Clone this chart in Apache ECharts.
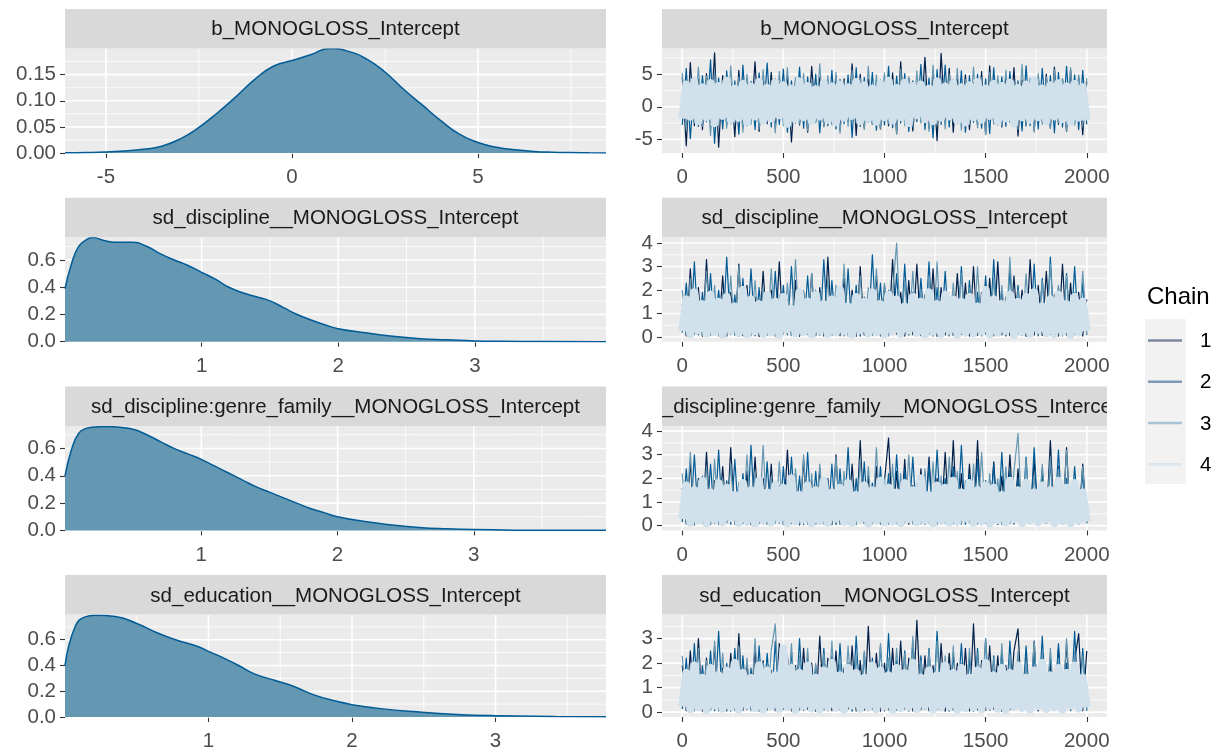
<!DOCTYPE html>
<html>
<head>
<meta charset="utf-8">
<script src="https://cdn.jsdelivr.net/npm/echarts@6/dist/echarts.min.js"></script>
<style>
  html, body { margin: 0; padding: 0; background: #ffffff; }
  #chart { width: 1219px; height: 752px; }
</style>
</head>
<body>
<div id="chart"></div>
<script>
// ---- parameters shown in the facet strips ----
const paramNames = [
  'b_MONOGLOSS_Intercept',
  'sd_discipline__MONOGLOSS_Intercept',
  'sd_discipline:genre_family__MONOGLOSS_Intercept',
  'sd_education__MONOGLOSS_Intercept'
];
const chainNames = ['1', '2', '3', '4'];
const chainColors = ['#011f4b', '#005b96', '#6497b1', '#d1e1ec'];
const legendKeyColors = ['#7a879d', '#7f98b6', '#a7c3d6', '#dbe6ee'];

// ---- posterior densities (all chains pooled) ----
const densX1 = [-6.1,-5.5,-5,-4.5,-4,-3.5,-3,-2.5,-2,-1.5,-1,-0.5,0,0.5,1,1.5,2,2.5,3,3.5,4,4.5,5,5.5,6,6.5,7,7.5,8,8.44];
const densY1 = [0.0005,0.001,0.002,0.004,0.007,0.013,0.027,0.049,0.077,0.108,0.141,0.166,0.177,0.188,0.2,0.195,0.18,0.155,0.122,0.092,0.062,0.036,0.02,0.011,0.006,0.003,0.0015,0.0008,0.0003,0.0001];
const densX2 = [0,0.05,0.1,0.15,0.2,0.3,0.4,0.5,0.6,0.7,0.8,0.9,1,1.1,1.2,1.3,1.4,1.5,1.6,1.7,1.8,1.9,2,2.2,2.4,2.6,2.8,3,3.2,3.5,3.96];
const densY2 = [0.39,0.58,0.70,0.745,0.765,0.74,0.73,0.73,0.70,0.645,0.60,0.56,0.51,0.46,0.40,0.36,0.33,0.30,0.25,0.20,0.16,0.125,0.095,0.065,0.04,0.022,0.014,0.006,0.003,0.001,0.0003];
const densX3 = [0,0.05,0.1,0.15,0.2,0.3,0.4,0.5,0.6,0.7,0.8,0.9,1,1.1,1.2,1.3,1.4,1.5,1.6,1.7,1.8,1.9,2,2.2,2.4,2.6,2.8,3,3.3,3.6,3.97];
const densY3 = [0.40,0.60,0.71,0.745,0.755,0.76,0.755,0.74,0.70,0.65,0.60,0.56,0.52,0.47,0.42,0.37,0.32,0.28,0.24,0.20,0.16,0.13,0.10,0.065,0.04,0.022,0.012,0.006,0.002,0.001,0.0002];
const densX4 = [0,0.07,0.14,0.21,0.35,0.5,0.65,0.77,0.93,1.0,1.1,1.21,1.32,1.46,1.6,1.74,1.9,2.0,2.2,2.45,2.73,3.0,3.42,3.77];
const densY4 = [0.40,0.70,0.777,0.79,0.78,0.726,0.65,0.60,0.545,0.51,0.46,0.40,0.335,0.285,0.235,0.17,0.12,0.096,0.065,0.04,0.02,0.01,0.004,0.001];

// ---- trace draws, every 20th iteration, one array per chain ----
const traceIter = Array.from({ length: 101 }, (_, i) => i * 20);

const traceB_c1 = [4.6,-6.0,6.8,-2.9,4.2,-3.5,5.1,-2.4,8.3,-6.2,4.8,-2.7,3.9,-4.6,5.6,-3.1,4.4,-2.2,6.9,-3.8,4.0,-2.6,5.3,-3.3,3.7,-2.0,4.9,-5.4,4.1,-2.8,3.6,-3.9,6.2,-2.3,4.5,-3.0,3.8,-2.5,4.7,-3.6,4.3,-2.1,6.6,-4.4,5.0,-3.2,4.2,-2.7,3.9,-3.4,4.6,-2.9,5.2,-4.1,6.9,-2.4,4.4,-3.7,3.5,-2.2,7.6,-3.3,4.8,-5.2,8.2,-2.6,5.9,-3.9,4.2,-2.3,4.9,-3.5,3.7,-2.8,5.4,-4.2,6.3,-2.6,4.0,-3.1,4.7,-2.4,6.0,-4.5,4.1,-2.9,3.8,-3.6,4.5,-2.2,5.0,-3.3,6.1,-2.7,4.3,-3.8,5.7,-2.5,4.6,-4.3,3.9];
const traceB_c2 = [-2.8,5.9,-4.9,4.1,-3.0,4.8,-2.3,7.2,-5.6,4.4,-3.4,5.5,-2.6,4.0,-4.2,6.4,-2.9,3.9,-3.5,5.2,-2.4,6.7,-3.1,4.3,-2.7,5.8,-3.9,4.0,-2.5,6.1,-3.3,4.6,-2.0,5.0,-4.0,3.8,-2.9,5.6,-3.4,4.2,-2.6,4.9,-4.7,6.0,-3.0,4.5,-2.4,5.3,-3.6,4.1,-2.8,6.2,-3.2,4.7,-2.5,5.1,-3.8,4.0,-2.3,6.5,-3.5,4.4,-4.8,5.7,-2.7,6.4,-3.1,4.2,-2.6,5.5,-3.9,4.8,-2.4,5.0,-3.3,4.3,-4.1,6.0,-2.8,4.6,-3.0,5.4,-2.5,4.0,-3.7,6.3,-2.9,4.5,-3.4,5.9,-2.6,4.8,-4.0,5.3,-3.1,6.2,-2.4,4.9,-3.5,5.6,-2.7];
const traceB_c3 = [5.2,-3.6,4.4,-2.5,6.1,-3.0,4.7,-4.4,5.5,-2.8,4.0,-3.3,6.3,-2.4,4.6,-3.9,5.0,-2.7,4.3,-3.4,5.7,-2.3,4.1,-4.0,5.4,-2.9,6.0,-3.2,4.5,-2.6,5.1,-3.7,4.2,-2.5,6.6,-3.1,4.8,-2.8,5.3,-4.1,4.0,-3.0,5.6,-2.4,4.4,-3.5,6.2,-2.7,4.9,-3.3,5.2,-2.6,4.1,-4.2,5.8,-2.9,4.6,-3.1,5.5,-2.5,4.3,-3.8,6.4,-2.8,4.7,-3.4,5.0,-2.3,5.9,-3.6,4.2,-2.7,6.1,-3.2,4.5,-4.3,5.3,-2.6,4.8,-3.0,5.6,-2.4,4.0,-3.5,6.5,-2.9,4.4,-3.9,5.1,-2.7,4.6,-3.3,5.7,-2.5,4.3,-3.7,6.0,-2.8,4.9,-3.1,4.4];
const traceB_c4 = [-1.8,3.4,-1.5,3.9,-2.2,3.0,-1.6,3.6,-2.5,3.2,-1.4,4.0,-2.0,2.8,-1.7,3.5,-2.3,3.1,-1.5,3.8,-2.1,2.9,-1.8,3.7,-1.3,3.3,-2.6,2.8,-1.9,3.9,-1.6,3.2,-2.2,2.7,-1.5,3.6,-2.0,3.1,-2.4,3.4,-1.7,3.0,-1.4,3.8,-2.2,3.3,-1.8,2.8,-2.3,3.5,-1.6,4.0,-2.1,2.9,-1.6,3.7,-2.5,3.2,-1.3,3.4,-1.9,2.8,-2.2,3.9,-1.7,3.1,-1.5,3.6,-2.1,3.0,-2.4,3.3,-1.6,3.8,-2.0,2.8,-1.4,3.5,-2.2,3.2,-1.8,3.7,-2.6,2.9,-1.6,3.4,-2.0,4.0,-1.6,2.8,-2.2,3.3,-1.5,3.6,-1.9,3.1,-2.3,3.5,-1.7,3.0,-2.1];

const traceD_c1 = [1.4,0.05,2.9,0.12,2.1,0.03,3.3,0.09,1.8,0.15,2.6,0.04,1.9,0.11,3.1,0.06,2.2,0.14,1.7,0.02,2.8,0.10,2.0,0.05,3.2,0.13,1.6,0.07,2.4,0.03,1.9,0.12,2.7,0.08,2.1,0.04,3.4,0.10,1.8,0.06,2.5,0.14,2.0,0.03,3.0,0.09,1.7,0.11,2.6,0.05,2.2,0.08,3.3,0.12,1.9,0.04,2.4,0.10,3.1,0.06,1.8,0.13,2.9,0.03,2.1,0.09,1.6,0.07,2.7,0.11,2.3,0.04,3.0,0.08,1.9,0.12,2.5,0.05,3.2,0.10,1.7,0.06,2.6,0.14,2.0,0.03,3.3,0.09,2.2,0.07,2.8,0.11,1.8,0.04,3.1,0.08,2.3,0.12,1.9,0.05,1.6];
const traceD_c2 = [0.18,2.3,0.06,3.2,0.10,1.9,0.04,2.7,0.13,2.0,0.07,3.4,0.11,1.8,0.03,2.5,0.09,2.9,0.05,2.1,0.12,1.7,0.08,2.8,0.04,2.2,0.10,3.0,0.06,1.9,0.14,2.6,0.03,2.0,0.09,3.3,0.07,2.4,0.11,1.8,0.05,2.9,0.12,2.2,0.04,1.7,0.08,3.5,0.10,2.3,0.06,2.0,0.13,2.7,0.03,3.1,0.09,1.9,0.07,2.5,0.11,3.2,0.04,2.1,0.10,2.8,0.05,1.8,0.12,3.0,0.08,2.4,0.03,1.9,0.09,2.6,0.06,3.3,0.11,2.0,0.04,2.9,0.10,2.2,0.07,1.7,0.13,3.1,0.05,2.5,0.09,3.4,0.06,2.1,0.11,2.7,0.04,3.0,0.08,2.3,0.10];
const traceD_c3 = [2.0,0.09,2.5,0.16,1.8,0.06,2.8,0.12,2.2,0.04,1.9,0.10,2.6,0.07,3.0,0.13,1.7,0.05,2.4,0.11,2.1,0.08,2.9,0.03,1.8,0.12,2.3,0.06,3.3,0.09,2.0,0.14,2.7,0.05,1.9,0.10,2.5,0.07,2.2,0.12,3.1,0.04,1.8,0.09,2.6,0.13,2.1,0.06,2.9,0.10,2.3,0.05,1.9,4.0,0.08,2.4,0.11,2.8,0.04,2.0,0.12,2.6,0.07,3.2,0.09,1.8,0.05,2.3,0.13,2.7,0.06,2.1,0.10,3.0,0.04,1.9,0.11,2.5,0.08,2.2,0.12,3.4,0.05,2.0,0.09,2.7,0.07,1.8,0.13,2.4,0.06,3.1,0.10,2.2,0.04,2.6,0.11,1.9,0.08,2.8,0.07];
const traceD_c4 = [0.25,1.6,0.12,1.9,0.30,1.4,0.15,1.8,0.22,1.5,0.10,1.7,0.28,1.3,0.18,2.0,0.12,1.6,0.25,1.4,0.14,1.8,0.20,1.5,0.09,1.7,0.32,1.2,0.16,1.9,0.22,1.5,0.11,1.8,0.27,1.4,0.13,1.6,0.19,2.0,0.24,1.3,0.10,1.7,0.29,1.5,0.15,1.9,0.21,1.4,0.12,1.8,0.26,1.6,0.14,1.3,0.30,1.7,0.17,1.5,0.10,1.9,0.23,1.4,0.13,1.8,0.28,1.6,0.11,1.5,0.20,1.7,0.15,1.3,0.25,2.0,0.12,1.6,0.18,1.4,0.27,1.8,0.09,1.5,0.22,1.7,0.14,1.9,0.31,1.3,0.16,1.6,0.12,1.8,0.24,1.4,0.10,1.7,0.19,1.5,0.26];

const traceG_c1 = [1.6,0.08,2.7,0.03,2.0,0.12,3.1,0.05,1.9,0.10,2.5,0.14,3.3,0.06,1.8,0.09,2.3,0.04,2.9,0.11,2.0,0.07,2.6,0.13,1.7,0.05,3.2,0.09,2.2,0.03,2.8,0.10,1.9,0.06,2.4,0.12,2.0,0.04,3.0,0.08,1.8,0.11,2.6,0.05,3.6,0.09,2.1,0.13,2.5,0.07,1.9,3.7,0.04,2.3,0.10,2.8,0.06,1.7,0.12,2.4,0.05,2.9,0.09,2.0,0.13,3.1,0.07,3.6,0.04,2.2,0.11,2.6,0.06,3.6,0.10,1.9,0.08,2.7,0.05,2.1,0.12,3.0,0.07,2.4,0.09,1.8,0.13,2.8,0.04,2.3,0.10,3.6,0.06,2.5,0.11,3.3,0.05,2.0,0.08,2.6,0.12];
const traceG_c2 = [0.15,2.4,0.07,3.0,0.11,2.1,0.04,2.6,0.09,3.2,0.13,1.9,0.06,2.8,0.10,2.2,0.03,3.4,0.12,2.0,0.08,2.7,0.05,1.8,0.11,2.5,0.07,2.9,0.14,2.1,0.04,3.1,0.09,2.3,0.06,1.9,0.12,2.6,0.05,2.4,0.10,3.3,0.07,2.0,0.13,2.7,0.04,1.8,0.09,2.5,0.11,2.2,0.06,3.0,0.08,2.4,0.12,2.9,0.05,2.1,0.10,2.6,0.04,3.2,0.09,2.0,0.13,2.5,0.07,3.4,0.06,2.2,0.11,2.8,0.04,1.9,0.10,2.6,0.08,3.1,0.05,2.3,0.12,2.0,0.07,2.9,0.09,3.3,0.04,2.4,0.11,2.7,0.06,3.2,0.10,2.0,0.05,2.5,0.08,2.2,0.13];
const traceG_c3 = [2.2,0.10,3.1,0.06,1.9,0.13,2.5,0.08,2.8,0.04,2.0,0.11,2.6,0.07,1.8,0.12,3.0,0.05,2.3,0.09,3.4,0.06,2.1,0.10,2.7,0.04,1.9,0.13,2.4,0.08,3.0,0.05,2.2,0.11,2.6,0.07,1.8,0.12,2.9,0.06,2.3,0.09,1.9,0.04,2.8,0.10,2.5,0.07,3.3,0.13,2.0,0.05,2.6,0.09,2.2,0.11,3.0,0.06,1.8,0.08,2.4,0.12,2.7,0.04,2.1,0.10,2.9,0.07,2.3,0.05,1.9,0.11,2.6,0.06,3.1,0.09,2.2,0.13,2.0,0.04,2.5,0.08,2.3,3.9,0.06,2.8,0.10,2.1,0.05,2.6,0.12,2.9,0.07,2.4,0.09,3.2,0.04,2.0,0.11,2.5,0.08];
const traceG_c4 = [0.28,1.7,0.13,1.5,0.22,1.9,0.10,1.4,0.26,1.8,0.15,1.6,0.31,1.3,0.12,1.8,0.20,1.5,0.09,1.9,0.24,1.4,0.14,1.7,0.29,1.6,0.11,2.0,0.18,1.3,0.25,1.7,0.10,1.5,0.21,1.9,0.13,1.4,0.30,1.6,0.16,1.8,0.12,1.3,0.27,1.7,0.09,1.5,0.23,1.9,0.14,1.6,0.19,1.4,0.11,1.8,0.28,1.5,0.15,2.0,0.22,1.3,0.10,1.7,0.25,1.6,0.13,1.9,0.18,1.4,0.30,1.8,0.12,1.5,0.20,1.7,0.09,1.6,0.24,1.3,0.14,1.9,0.27,1.5,0.11,1.8,0.21,1.4,0.16,1.7,0.26,1.5,0.12,1.9,0.19,1.6,0.10,1.8,0.23,1.4,0.17];

const traceE_c1 = [1.9,0.06,2.5,0.11,3.0,0.04,2.2,0.09,2.7,0.13,1.8,0.05,2.4,0.10,3.2,0.07,2.0,0.12,2.6,0.04,2.1,0.09,1.7,0.06,2.8,0.11,2.3,0.05,1.9,0.08,2.6,0.12,2.0,0.04,3.1,0.09,2.2,0.06,2.5,0.10,1.8,0.13,2.7,0.05,2.1,0.08,3.5,0.11,2.4,0.04,2.0,0.09,2.6,0.07,2.9,0.12,2.2,0.05,3.75,0.10,2.3,0.06,1.9,0.11,2.8,0.04,2.4,0.08,2.0,0.13,2.6,0.05,3.6,0.09,2.1,0.07,2.7,0.12,2.3,0.04,1.9,0.10,2.5,3.4,0.06,2.2,0.11,2.9,0.05,2.4,0.08,2.0,0.12,2.6,0.04,2.8,0.09,2.1,3.2,0.06,2.5];
const traceE_c2 = [0.12,2.2,0.05,2.8,0.09,1.9,0.13,2.5,0.06,3.3,0.10,2.0,0.04,2.6,0.08,2.3,0.11,1.8,0.05,2.7,0.09,2.4,0.12,2.9,0.06,2.1,0.10,2.5,0.04,3.0,0.08,2.2,0.11,1.9,0.05,2.6,0.13,2.3,0.07,2.8,0.09,2.0,0.04,3.1,0.10,2.4,0.06,2.2,0.12,2.7,0.05,3.2,0.08,2.1,0.11,2.5,0.04,2.9,0.09,2.3,0.13,2.6,0.06,3.3,0.10,2.0,0.05,2.4,0.08,2.8,0.12,2.2,0.04,2.6,0.09,3.0,0.07,2.3,0.11,2.5,0.05,2.9,0.10,2.1,0.06,2.7,0.13,2.4,0.08,3.1,0.04,2.3,0.09,2.8,0.12,2.0,0.06,3.3,0.10,2.6,0.05];
const traceE_c3 = [2.3,0.09,1.9,0.05,2.6,0.12,2.1,0.07,2.9,0.04,2.4,0.10,1.8,0.06,2.7,0.11,2.2,0.05,3.0,0.08,2.0,0.13,2.5,3.6,0.06,2.2,0.09,2.8,0.04,2.3,0.11,2.6,0.07,2.0,0.12,2.4,0.05,2.9,0.09,2.1,0.06,2.7,0.10,2.3,0.04,2.5,0.13,2.0,0.08,2.8,0.05,2.2,0.11,2.6,0.07,2.4,0.09,3.1,0.04,2.1,0.12,2.5,0.06,2.9,0.10,2.3,0.05,2.7,0.08,2.0,0.11,2.6,0.04,2.4,0.09,3.0,0.07,2.2,0.12,2.8,0.06,2.3,0.10,2.5,0.05,2.1,0.08,2.9,0.11,2.4,0.04,2.6,0.09,2.2,0.07,3.0,0.12,2.5,0.06,2.3,0.10];
const traceE_c4 = [0.24,1.6,0.12,1.9,0.20,1.4,0.09,1.8,0.27,1.5,0.14,1.7,0.22,2.0,0.11,1.6,0.29,1.4,0.16,1.9,0.10,1.7,0.25,1.5,0.13,2.6,0.21,1.8,0.09,1.6,0.26,1.9,0.15,1.4,0.11,1.7,0.23,2.0,0.18,1.5,0.10,1.8,0.28,1.6,0.14,1.4,0.20,1.9,0.12,1.7,0.25,1.5,0.09,1.8,0.17,1.6,0.22,2.0,0.13,1.4,0.27,1.7,0.11,1.5,0.19,1.9,0.24,1.6,0.10,1.8,0.16,1.4,0.21,1.7,0.12,2.0,0.26,1.5,0.14,1.8,0.09,1.6,0.23,1.9,0.18,1.4,0.11,1.7,0.25,2.0,0.13,1.5,0.20,1.8,0.10,1.6,0.27,1.9,0.15,1.4,0.21];

// ---- tick values (labels and major/minor grid) ----
const densXTicks = [[-5, 0, 5], [1, 2, 3], [1, 2, 3], [1, 2, 3]];
const densXMinor = [[-2.5, 2.5, 7.5], [0.5, 1.5, 2.5, 3.5], [0.5, 1.5, 2.5, 3.5], [0.5, 1.5, 2.5, 3.5]];
const densYTicks = [[0, 0.05, 0.1, 0.15], [0, 0.2, 0.4, 0.6], [0, 0.2, 0.4, 0.6], [0, 0.2, 0.4, 0.6]];
const densYMinor = [[0.025, 0.075, 0.125, 0.175], [0.1, 0.3, 0.5, 0.7], [0.1, 0.3, 0.5, 0.7], [0.1, 0.3, 0.5, 0.7]];
const traceXTicks = [0, 500, 1000, 1500, 2000];
const traceXMinor = [250, 750, 1250, 1750];
const traceYTicks = [[-5, 0, 5], [0, 1, 2, 3, 4], [0, 1, 2, 3, 4], [0, 1, 2, 3]];
const traceYMinor = [[-2.5, 2.5, 7.5], [0.5, 1.5, 2.5, 3.5], [0.5, 1.5, 2.5, 3.5], [0.5, 1.5, 2.5, 3.5]];

const densData = [[densX1, densY1], [densX2, densY2], [densX3, densY3], [densX4, densY4]];
const traceData = [
  [traceB_c1, traceB_c2, traceB_c3, traceB_c4],
  [traceD_c1, traceD_c2, traceD_c3, traceD_c4],
  [traceG_c1, traceG_c2, traceG_c3, traceG_c4],
  [traceE_c1, traceE_c2, traceE_c3, traceE_c4]
];

// ---- panel layout ----
const FONT = '"Liberation Sans", Arial, Helvetica, sans-serif';
const TXT = 20.5;
const ROW_STEP = 188.7;
const STRIP_H = 39.5;
const PANEL_H = 104.5;
const COLS = [{ x: 65, w: 541 }, { x: 662, w: 445 }];
const stripTop = r => 9 + ROW_STEP * r;
const panelTop = r => 48.5 + ROW_STEP * r;

const densXRange = [[-6.1, 8.44], [0, 3.96], [0, 3.97], [0, 3.77]];
const densYMax = [0.2, 0.768, 0.765, 0.795];
const densYDigits = [2, 1, 1, 1];
const traceXRange = [-100, 2100];
const traceYRange = [[-7.1, 8.95], [-0.2, 4.25], [-0.2, 4.22], [-0.2, 3.98]];
// the last chain is drawn on top and, being thinned, gets a wider stroke
const chainWidths = [1.2, 1.2, 1.2, 8];

const grids = [], xAxes = [], yAxes = [], series = [], graphics = [];

function makeAxis(dim, gi, range, ticks, fmt) {
  return {
    type: 'value', gridIndex: gi, min: range[0], max: range[1],
    splitLine: { show: false },
    axisLine: { show: false, onZero: false },
    axisTick: { show: true, length: 5, lineStyle: { color: '#333333', width: 1.1 }, customValues: ticks },
    axisLabel: {
      customValues: ticks, formatter: fmt, color: '#4d4d4d',
      fontSize: TXT, fontFamily: FONT, margin: dim === 'x' ? 14 : 9
    }
  };
}

// white major/minor grid lines drawn under the data
function gridLineSeries(gi, xr, yr, xMaj, xMin, yMaj, yMin) {
  const items = [];
  xMin.forEach(v => items.push([v, yr[0], 1]));
  yMin.forEach(v => items.push([xr[0], v, 3]));
  xMaj.forEach(v => items.push([v, yr[0], 0]));
  yMaj.forEach(v => items.push([xr[0], v, 2]));
  return {
    type: 'custom', xAxisIndex: gi, yAxisIndex: gi, silent: true, z: 1,
    encode: { x: 0, y: 1 },
    data: items,
    renderItem(params, api) {
      const kind = api.value(2);
      let p1, p2;
      if (kind < 2) {
        p1 = api.coord([api.value(0), yr[0]]); p2 = api.coord([api.value(0), yr[1]]);
      } else {
        p1 = api.coord([xr[0], api.value(1)]); p2 = api.coord([xr[1], api.value(1)]);
      }
      return {
        type: 'line',
        shape: { x1: p1[0], y1: p1[1], x2: p2[0], y2: p2[1] },
        style: { stroke: '#ffffff', lineWidth: kind % 2 === 0 ? 1.6 : 0.8 }
      };
    }
  };
}

function addPanel(col, r, xr, yr, xTicks, xMinor, yTicks, yMinor, xFmt, yFmt) {
  const gi = grids.length;
  grids.push({
    left: COLS[col].x, top: panelTop(r), width: COLS[col].w, height: PANEL_H,
    show: true, backgroundColor: '#ebebeb', borderWidth: 0
  });
  xAxes.push(makeAxis('x', gi, xr, xTicks, xFmt));
  yAxes.push(makeAxis('y', gi, yr, yTicks, yFmt));
  series.push(gridLineSeries(gi, xr, yr, xTicks, xMinor, yTicks, yMinor));
  // facet strip
  graphics.push({
    type: 'rect', z: 5,
    shape: { x: COLS[col].x, y: stripTop(r), width: COLS[col].w, height: STRIP_H },
    style: { fill: '#d9d9d9' }
  });
  graphics.push({
    type: 'text', z: 6,
    style: {
      text: paramNames[r], x: COLS[col].x + COLS[col].w / 2, y: stripTop(r) + STRIP_H / 2 + 1,
      align: 'center', verticalAlign: 'middle', fill: '#1a1a1a',
      font: TXT + 'px ' + FONT
    }
  });
  return gi;
}

paramNames.forEach((name, r) => {
  // density panel
  const gd = addPanel(0, r, densXRange[r], [0, densYMax[r]],
    densXTicks[r], densXMinor[r], densYTicks[r], densYMinor[r],
    v => String(v), v => v.toFixed(densYDigits[r]));
  const [dx, dy] = densData[r];
  series.push({
    type: 'line', xAxisIndex: gd, yAxisIndex: gd, z: 3,
    data: dx.map((x, i) => [x, dy[i]]),
    smooth: 0.5, symbol: 'none', silent: true,
    lineStyle: { color: '#005b96', width: 1.5 },
    areaStyle: { color: '#6497b1', opacity: 1 }
  });
  // trace panel: chains drawn in order, the last one on top
  const gt = addPanel(1, r, traceXRange, traceYRange[r],
    traceXTicks, traceXMinor, traceYTicks[r], traceYMinor[r],
    v => String(v), v => String(v));
  traceData[r].forEach((vals, c) => {
    series.push({
      type: 'line', name: chainNames[c], xAxisIndex: gt, yAxisIndex: gt, z: 3 + c,
      data: traceIter.map((it, i) => [it, vals[i]]),
      symbol: 'none', silent: true,
      lineStyle: { color: chainColors[c], width: chainWidths[c], join: 'round', cap: 'butt' }
    });
  });
});

// clip the overlong strip label of the third trace panel to its strip
graphics.push({
  type: 'rect', z: 7,
  shape: { x: COLS[0].x + COLS[0].w, y: stripTop(2), width: COLS[1].x - COLS[0].x - COLS[0].w, height: 32 },
  style: { fill: '#ffffff' }
});
graphics.push({
  type: 'rect', z: 7,
  shape: { x: COLS[1].x + COLS[1].w, y: stripTop(2), width: 34, height: 32 },
  style: { fill: '#ffffff' }
});

// legend: "Chain" with a line key per chain
graphics.push({
  type: 'text', z: 6,
  style: { text: 'Chain', x: 1147, y: 297, align: 'left', verticalAlign: 'middle', fill: '#000000', font: '24px ' + FONT }
});
graphics.push({
  type: 'rect', z: 5,
  shape: { x: 1145, y: 319, width: 41, height: 165 },
  style: { fill: '#f2f2f2' }
});
chainNames.forEach((n, c) => {
  const cy = 340.6 + c * 41.2;
  graphics.push({
    type: 'line', z: 6,
    shape: { x1: 1148, y1: cy, x2: 1182, y2: cy },
    style: { stroke: legendKeyColors[c], lineWidth: 2.5 }
  });
  graphics.push({
    type: 'text', z: 6,
    style: { text: n, x: 1200, y: cy + 1, align: 'left', verticalAlign: 'middle', fill: '#000000', font: TXT + 'px ' + FONT }
  });
});

const chart = echarts.init(document.getElementById('chart'), null, { renderer: 'canvas' });
chart.setOption({
  animation: false,
  backgroundColor: '#ffffff',
  grid: grids,
  xAxis: xAxes,
  yAxis: yAxes,
  series: series,
  graphic: graphics
});
</script>
</body>
</html>
